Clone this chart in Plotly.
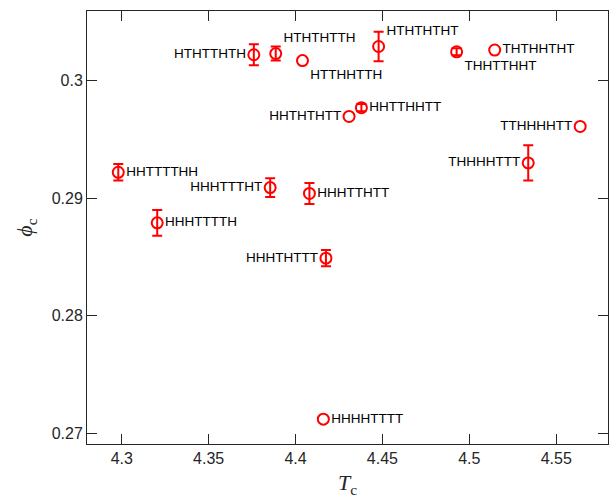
import plotly.graph_objects as go

labels = ["HTHTTHTH", "HTHTHTTH", "HTTHHTTH", "HHTHTHTT", "HTHTHTHT", "THHTTHHT",
          "THTHHTHT", "HHTTHHTT", "TTHHHHTT", "HHTTTTHH", "HHHTTTHT", "HHHTTHTT",
          "HHHTTTTH", "HHHTHTTT", "THHHHTTT", "HHHHTTTT"]
tc = [4.376, 4.3886, 4.404, 4.4308, 4.4478, 4.4927,
      4.5146, 4.4379, 4.5638, 4.298, 4.3854, 4.408,
      4.3204, 4.4175, 4.5339, 4.416]
phi = [0.3022, 0.3023, 0.3017, 0.29695, 0.3029, 0.30245,
       0.3026, 0.2977, 0.2961, 0.2922, 0.2909, 0.2904,
       0.2879, 0.2849, 0.2930, 0.2712]
err = [0.0009, 0.0006, 0.0, 0.0, 0.00125, 0.0003,
       0.0, 0.0003, 0.0, 0.0007, 0.0008, 0.0009,
       0.0011, 0.0007, 0.0015, 0.0]
label_pos = ["middle left", "top right", "bottom right", "middle left", "top right", "bottom right",
             "middle right", "middle right", "middle left", "middle right", "middle left", "middle right",
             "middle right", "middle left", "middle left", "middle right"]
x_ticks = [4.3, 4.35, 4.4, 4.45, 4.5, 4.55]
y_ticks = [0.27, 0.28, 0.29, 0.3]
y_tick_text = ["0.27", "0.28", "0.29", "0.3"]

# only points with a non-zero uncertainty get an error bar
eb_x = [x for x, e in zip(tc, err) if e > 0]
eb_y = [y for y, e in zip(phi, err) if e > 0]
eb_e = [e for e in err if e > 0]

fig = go.Figure()
fig.add_trace(go.Scatter(
    x=eb_x, y=eb_y, mode="markers",
    marker=dict(size=1, color="rgba(0,0,0,0)"),
    error_y=dict(type="data", array=eb_e, visible=True, color="red", thickness=2, width=5),
    showlegend=False, hoverinfo="skip",
))
fig.add_trace(go.Scatter(
    x=tc, y=phi, mode="markers+text",
    text=labels, textposition=label_pos,
    textfont=dict(family="Liberation Sans, Arial", size=13.5, color="black"),
    marker=dict(symbol="circle-open", size=11, color="red", line=dict(width=2, color="red")),
    cliponaxis=False, showlegend=False,
))

axis_common = dict(showline=True, linecolor="#262626", linewidth=1, mirror="ticks",
                   ticks="inside", ticklen=10, tickcolor="#262626", showgrid=False, zeroline=False,
                   automargin=False,
                   tickfont=dict(family="Liberation Sans, Arial", size=16, color="#262626"))
fig.update_xaxes(range=[4.2800, 4.5798], tickvals=x_ticks, ticktext=[str(v) for v in x_ticks],
                 title=dict(text="<i>T</i><sub>c</sub>", font=dict(family="Liberation Serif", size=22, color="#262626"),
                            standoff=8),
                 **axis_common)
fig.update_yaxes(range=[0.26909, 0.30592], tickvals=y_ticks, ticktext=y_tick_text,
                 title=dict(text="<i>ϕ</i><sub>c</sub>", font=dict(family="Liberation Serif", size=22, color="#262626"),
                            standoff=12),
                 **axis_common)
fig.update_layout(width=610, height=499, plot_bgcolor="white", paper_bgcolor="white",
                  margin=dict(l=87, r=2, t=11, b=55))
fig.write_html("out.html", config={"responsive": False, "displayModeBar": False},
               post_script="document.body.style.margin='0';document.body.style.overflow='hidden';")
